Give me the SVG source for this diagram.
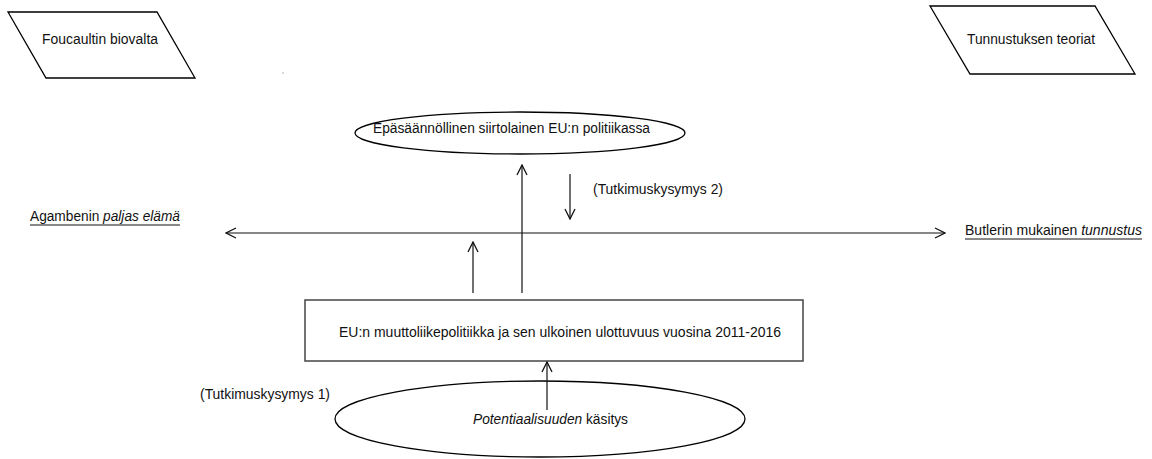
<svg xmlns="http://www.w3.org/2000/svg" width="1152" height="459" viewBox="0 0 1152 459">
<style>
.shape{fill:#fff;stroke:#000;stroke-width:1.3}
.box{fill:#fff;stroke:#444;stroke-width:1.5}
.t{font-family:"Liberation Sans",Arial,sans-serif;font-size:14px;fill:#111}
.c{stroke:#111;stroke-width:1.2;fill:none}
</style>
<defs>
<marker id="ah" viewBox="0 0 12 12" refX="11" refY="6" markerWidth="12" markerHeight="12" markerUnits="userSpaceOnUse" orient="auto-start-reverse">
<path d="M1,1 L11,6 L1,11" fill="none" stroke="#111" stroke-width="1.3"/>
</marker>
</defs>
<rect width="1152" height="459" fill="#fff"/>
<g id="foucault">
<polygon class="shape" points="8,12 157,12 195,78 46,78"/>
<text class="t" x="42" y="44" textLength="116" lengthAdjust="spacingAndGlyphs">Foucaultin biovalta</text>
</g>
<g id="tunnustus-teoriat">
<polygon class="shape" points="930,6 1095,6 1135,74 970,74"/>
<text class="t" x="967" y="44" textLength="128" lengthAdjust="spacingAndGlyphs">Tunnustuksen teoriat</text>
</g>
<circle cx="283" cy="73" r="0.7" fill="#999"/>
<g id="siirtolainen">
<ellipse class="shape" cx="520" cy="133" rx="165" ry="21"/>
<text class="t" x="373" y="133" textLength="277" lengthAdjust="spacingAndGlyphs">Epäsäännöllinen siirtolainen EU:n politiikassa</text>
</g>
<g id="agamben">
<text class="t" x="30" y="221" textLength="150" lengthAdjust="spacingAndGlyphs">Agambenin <tspan font-style="italic">paljas elämä</tspan></text>
<line x1="30" y1="225" x2="180" y2="225" stroke="#111" stroke-width="1"/>
</g>
<g id="butler">
<text class="t" x="965" y="235" textLength="177" lengthAdjust="spacingAndGlyphs">Butlerin mukainen <tspan font-style="italic">tunnustus</tspan></text>
<line x1="965" y1="239" x2="1142" y2="239" stroke="#111" stroke-width="1"/>
</g>
<g id="tk2">
<text class="t" x="593" y="194" textLength="130" lengthAdjust="spacingAndGlyphs">(Tutkimuskysymys 2)</text>
</g>
<g id="muuttoliikepolitiikka">
<rect class="box" x="305" y="300" width="498" height="61"/>
<text class="t" x="339" y="337" textLength="442" lengthAdjust="spacingAndGlyphs">EU:n muuttoliikepolitiikka ja sen ulkoinen ulottuvuus vuosina 2011-2016</text>
</g>
<g id="tk1">
<text class="t" x="200" y="399" textLength="130" lengthAdjust="spacingAndGlyphs">(Tutkimuskysymys 1)</text>
</g>
<g id="potentiaalisuus">
<ellipse class="shape" cx="540" cy="419" rx="205" ry="38"/>
<text class="t" x="473" y="424" textLength="155" lengthAdjust="spacingAndGlyphs"><tspan font-style="italic">Potentiaalisuuden</tspan> käsitys</text>
</g>
<g id="connectors">
<line class="c" x1="226" y1="233" x2="945" y2="233" marker-start="url(#ah)" marker-end="url(#ah)"/>
<line class="c" x1="522" y1="293" x2="522" y2="165" marker-end="url(#ah)"/>
<line class="c" x1="570" y1="174" x2="570" y2="219" marker-end="url(#ah)"/>
<line class="c" x1="473" y1="293" x2="473" y2="242" marker-end="url(#ah)"/>
<line class="c" x1="547" y1="410" x2="547" y2="362" marker-end="url(#ah)"/>
</g>
</svg>
